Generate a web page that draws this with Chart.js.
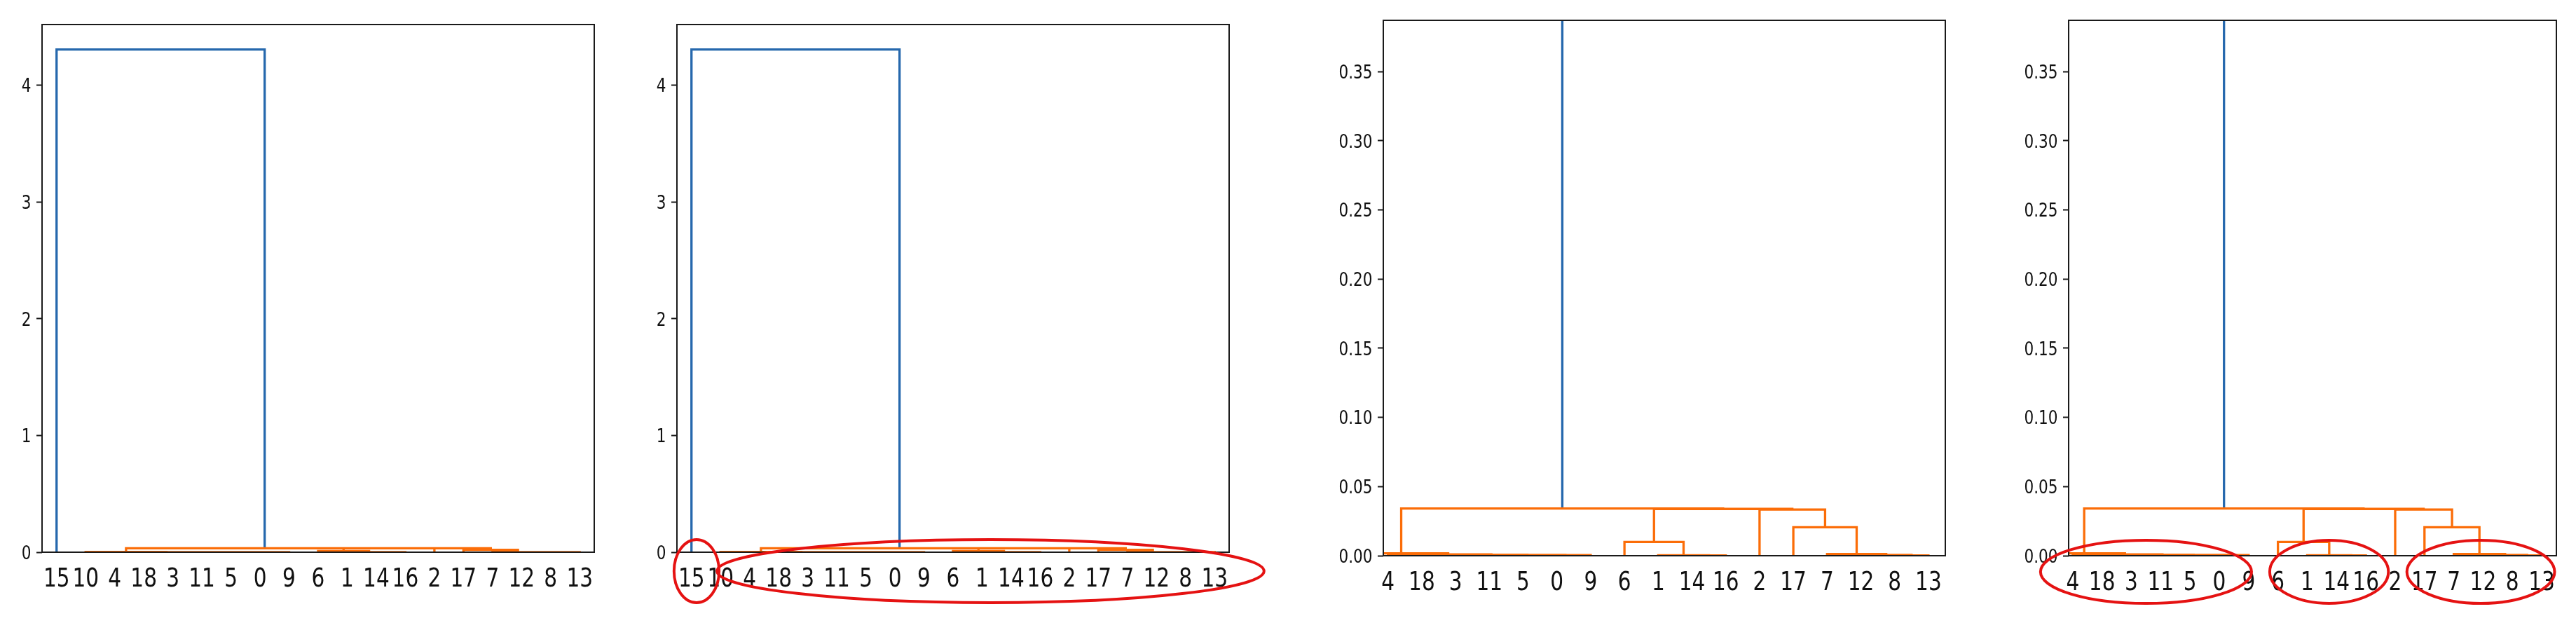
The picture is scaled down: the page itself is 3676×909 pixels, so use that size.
<!DOCTYPE html>
<html lang="en">
<head>
<meta charset="UTF-8">
<title>Dendrogramme</title>
<script src="https://cdn.jsdelivr.net/npm/chart.js"></script>
<style>
    body {
        margin: 0;
        background: #fff;
    }

    #wrap {
        position: relative;
        width: 3676px;
        height: 909px;
    }

    #wrap canvas {
        position: absolute;
        top: 0;
    }
</style>
</head>
<body>
<div id="wrap">
    <canvas id="c1" width="910" height="909" style="left:0px"></canvas>
    <canvas id="c2" width="900" height="909" style="left:910px"></canvas>
    <canvas id="c3" width="990" height="909" style="left:1810px"></canvas>
    <canvas id="c4" width="876" height="909" style="left:2800px"></canvas>
</div>

<script>
// leaf order under the dendrogram (position 0..18)
const leafLabels = ['15', '10', '4', '18', '3', '11', '5', '0', '9', '6', '1', '14', '16', '2', '17', '7', '12', '8', '13'];

// links, scipy style: left x, right x (leaf positions), height of the bar, heights of both feet
const linkX1 = [2, 6, 6.5, 5, 4, 2.5, 1, 11, 10, 9, 17, 16, 15, 14, 13, 9.875, 2.39, 0];
const linkX2 = [3, 7, 8, 7.25, 6.125, 5.06, 3.78, 12, 11.5, 10.75, 18, 17.5, 16.75, 15.875, 14.94, 13.97, 11.92, 7.16];
const linkTop = [0.0003, 0.0002, 0.0004, 0.0005, 0.0007, 0.0009, 0.0017, 0.0002, 0.0003, 0.0099, 0.0002, 0.0005, 0.0012, 0.0206, 0.0334, 0.0338, 0.0341, 4.306];
const linkFoot1 = [0, 0, 0.0002, 0, 0, 0.0003, 0, 0, 0, 0, 0, 0, 0, 0, 0, 0.0099, 0.0017, 0];
const linkFoot2 = [0, 0, 0, 0.0004, 0.0005, 0.0007, 0.0009, 0, 0.0002, 0.0003, 0, 0.0002, 0.0005, 0.0012, 0.0206, 0.0334, 0.0338, 0.0341];
const linkAbove = [false, false, false, false, false, false, false, false, false, false, false, false, false, false, false, false, false, true];

// y ticks of the full view and of the zoomed view
const fullTicks = [0, 1, 2, 3, 4];
const fullTickLabels = ['0', '1', '2', '3', '4'];
const zoomTicks = [0, 0.05, 0.10, 0.15, 0.20, 0.25, 0.30, 0.35];
const zoomTickLabels = ['0.00', '0.05', '0.10', '0.15', '0.20', '0.25', '0.30', '0.35'];

// red marks drawn over the labels (leaf position range)
const marksPanel2 = [[-0.6, 0.95], [0.88, 19.7]];
const marksPanel4 = [[0.9, 8.1], [8.72, 12.77], [13.4, 18.44]];

const BLUE = '#2668ad';
const ORANGE = '#fb6d08';
const LABEL_FONT = "'DejaVu Sans', sans-serif";
const SQUEEZE = 0.8; // the labels in the picture are narrower than the font

function linkPoints(above) {
    const pts = [];
    for (let i = 0; i < linkX1.length; i++) {
        if (linkAbove[i] !== above) continue;
        pts.push({ x: linkX1[i], y: linkFoot1[i] });
        pts.push({ x: linkX1[i], y: linkTop[i] });
        pts.push({ x: linkX2[i], y: linkTop[i] });
        pts.push({ x: linkX2[i], y: linkFoot2[i] });
        pts.push({ x: linkX2[i], y: null });
    }
    return pts;
}

// frame on all four sides, like the matplotlib spines
const framePlugin = {
    id: 'frame',
    afterDatasetsDraw(chart) {
        const a = chart.chartArea;
        const ctx = chart.ctx;
        ctx.save();
        ctx.strokeStyle = '#1a1a1a';
        ctx.lineWidth = 2;
        ctx.strokeRect(a.left, a.top, a.right - a.left, a.bottom - a.top);
        ctx.restore();
    }
};

// tick labels, squeezed horizontally
const labelPlugin = {
    id: 'squeezedLabels',
    afterDraw(chart, args, opts) {
        const ctx = chart.ctx;
        const a = chart.chartArea;
        const xs = chart.scales.x;
        const ys = chart.scales.y;
        ctx.save();
        ctx.fillStyle = '#111';
        ctx.textBaseline = 'alphabetic';

        ctx.font = '37px ' + LABEL_FONT;
        ctx.textAlign = 'center';
        for (let p = opts.firstLeaf; p < leafLabels.length; p++) {
            ctx.save();
            ctx.translate(xs.getPixelForValue(p), a.bottom + 49);
            ctx.scale(SQUEEZE, 1);
            ctx.fillText(leafLabels[p], 0, 0);
            ctx.restore();
        }

        ctx.font = '27px ' + LABEL_FONT;
        ctx.textAlign = 'right';
        opts.ticks.forEach((v, i) => {
            ctx.save();
            ctx.translate(a.left - 15.5, ys.getPixelForValue(v) + 9.8);
            ctx.scale(SQUEEZE, 1);
            ctx.fillText(opts.tickLabels[i], 0, 0);
            ctx.restore();
        });
        ctx.restore();
    }
};

const marksPlugin = {
    id: 'marks',
    afterDraw(chart, args, opts) {
        if (!opts.list || !opts.list.length) return;
        const ctx = chart.ctx;
        const xs = chart.scales.x;
        ctx.save();
        ctx.strokeStyle = '#e51212';
        ctx.lineWidth = 4;
        opts.list.forEach(m => {
            const p1 = xs.getPixelForValue(m[0]);
            const p2 = xs.getPixelForValue(m[1]);
            ctx.beginPath();
            ctx.ellipse((p1 + p2) / 2, chart.chartArea.bottom + opts.dy, (p2 - p1) / 2, opts.ry, 0, 0, Math.PI * 2);
            ctx.stroke();
        });
        ctx.restore();
    }
};

function makePanel(id, cfg) {
    const ctx = document.getElementById(id).getContext('2d');
    return new Chart(ctx, {
        type: 'line',
        data: {
            datasets: [
                {
                    data: linkPoints(false),
                    borderColor: ORANGE,
                    borderWidth: 3.3,
                    pointRadius: 0,
                    tension: 0,
                    spanGaps: false,
                    borderJoinStyle: 'miter',
                    fill: false,
                },
                {
                    data: linkPoints(true),
                    borderColor: BLUE,
                    borderWidth: 3.3,
                    pointRadius: 0,
                    tension: 0,
                    spanGaps: false,
                    borderJoinStyle: 'miter',
                    fill: false,
                },
            ],
        },
        options: {
            responsive: false,
            animation: false,
            events: [],
            devicePixelRatio: 1,
            layout: {
                padding: { left: 0, right: cfg.padRight, top: cfg.padTop, bottom: 0 },
            },
            plugins: {
                legend: { display: false },
                tooltip: { enabled: false },
                marks: { list: cfg.marks, dy: cfg.markDy, ry: 45 },
                squeezedLabels: { firstLeaf: cfg.firstLeaf, ticks: cfg.ticks, tickLabels: cfg.tickLabels },
            },
            scales: {
                x: {
                    type: 'linear',
                    min: cfg.xMin,
                    max: cfg.xMax,
                    grid: { display: false, drawTicks: false },
                    border: { display: false },
                    afterBuildTicks: function (scale) {
                        const t = [];
                        for (let p = cfg.firstLeaf; p < leafLabels.length; p++) t.push({ value: p });
                        scale.ticks = t;
                    },
                    afterFit: function (scale) {
                        scale.height = cfg.xHeight;
                    },
                    ticks: { display: false },
                },
                y: {
                    type: 'linear',
                    min: 0,
                    max: cfg.yMax,
                    grid: {
                        display: true,
                        drawOnChartArea: false,
                        drawTicks: true,
                        tickLength: 8,
                        tickWidth: 2,
                        tickColor: '#1a1a1a',
                    },
                    border: { display: false },
                    afterBuildTicks: function (scale) {
                        scale.ticks = cfg.ticks.map(v => ({ value: v }));
                    },
                    afterFit: function (scale) {
                        scale.width = cfg.yWidth;
                    },
                    ticks: { display: false },
                },
            },
        },
        plugins: [framePlugin, labelPlugin, marksPlugin],
    });
}

makePanel('c1', {
    xMin: -0.5, xMax: 18.5, yMax: 4.52, firstLeaf: 0,
    ticks: fullTicks, tickLabels: fullTickLabels,
    yWidth: 60, padRight: 62, padTop: 35, xHeight: 121,
    marks: [], markDy: 27,
});
makePanel('c2', {
    xMin: -0.5, xMax: 18.5, yMax: 4.52, firstLeaf: 0,
    ticks: fullTicks, tickLabels: fullTickLabels,
    yWidth: 56, padRight: 56, padTop: 35, xHeight: 121,
    marks: marksPanel2, markDy: 27,
});
makePanel('c3', {
    xMin: 1.86, xMax: 18.5, yMax: 0.387, firstLeaf: 2,
    ticks: zoomTicks, tickLabels: zoomTickLabels,
    yWidth: 164, padRight: 24, padTop: 29, xHeight: 116,
    marks: [], markDy: 23,
});
makePanel('c4', {
    xMin: 1.86, xMax: 18.5, yMax: 0.387, firstLeaf: 2,
    ticks: zoomTicks, tickLabels: zoomTickLabels,
    yWidth: 152, padRight: 28, padTop: 29, xHeight: 116,
    marks: marksPanel4, markDy: 23,
});
</script>
</body>
</html>
